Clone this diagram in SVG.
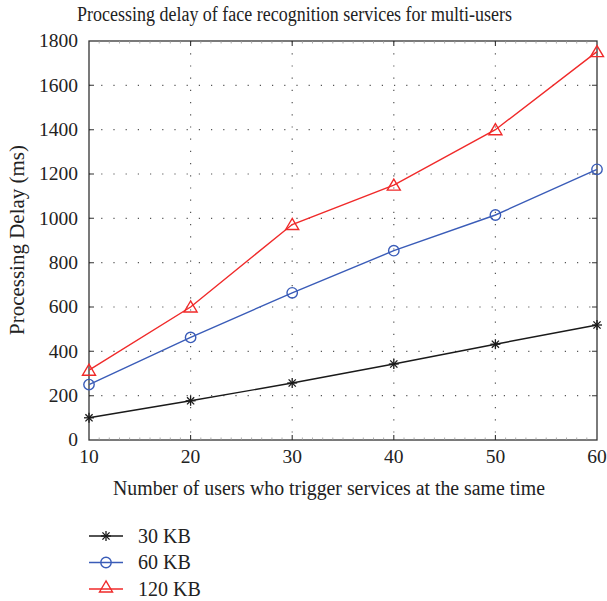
<svg xmlns="http://www.w3.org/2000/svg" xmlns:xlink="http://www.w3.org/1999/xlink" width="607" height="601" viewBox="0 0 607 601" font-family="'Liberation Serif','Times New Roman',serif">
<style>
text{font-family:"Liberation Serif","Times New Roman",serif;fill:#222}
.tick{font-size:19.5px}
.grid{stroke:#555;stroke-width:1.2;stroke-dasharray:1.2 11;fill:none}
.axis{stroke:#333;stroke-width:1.3;fill:none}
.mtick{stroke:#333;stroke-width:1.1}
.minor{stroke:#999;stroke-width:0.8}
.s30{stroke:#1a1a1a;stroke-width:1.4;fill:none}
.s60{stroke:#3a5cb8;stroke-width:1.4;fill:none}
.s120{stroke:#f02a2a;stroke-width:1.4;fill:none}
</style>
<defs>
<g id="star" stroke="#1a1a1a" stroke-width="1.3"><line x1="-5" y1="0" x2="5" y2="0"/><line x1="0" y1="-5" x2="0" y2="5"/><line x1="-3.6" y1="-3.6" x2="3.6" y2="3.6"/><line x1="-3.6" y1="3.6" x2="3.6" y2="-3.6"/></g>
<circle id="circ" r="5.2" fill="none" stroke="#3a5cb8" stroke-width="1.4"/>
<polygon id="tri" points="0,-6 -6.5,5 6.5,5" fill="none" stroke="#f02a2a" stroke-width="1.4"/>
</defs>
<g id="title"><text x="294.5" y="21" font-size="20.5" text-anchor="middle" textLength="435" lengthAdjust="spacingAndGlyphs">Processing delay of face recognition services for multi-users</text></g>
<g id="grid">
<path class="grid" d="M89 395.7H597M89 351.3H597M89 307H597M89 262.7H597M89 218.3H597M89 174H597M89 129.7H597M89 85.3H597"/>
<path class="grid" d="M190.6 41V440M292.2 41V440M393.8 41V440M495.4 41V440"/>
</g>
<g id="axes">
<rect class="axis" x="89" y="41" width="508" height="399"/>
<path class="minor" d="M99.2 440v-2.5M109.3 440v-2.5M119.5 440v-2.5M129.6 440v-2.5M139.8 440v-2.5M150 440v-2.5M160.1 440v-2.5M170.3 440v-2.5M180.4 440v-2.5M200.8 440v-2.5M210.9 440v-2.5M221.1 440v-2.5M231.2 440v-2.5M241.4 440v-2.5M251.6 440v-2.5M261.7 440v-2.5M271.9 440v-2.5M282 440v-2.5M302.4 440v-2.5M312.5 440v-2.5M322.7 440v-2.5M332.8 440v-2.5M343 440v-2.5M353.2 440v-2.5M363.3 440v-2.5M373.5 440v-2.5M383.6 440v-2.5M404 440v-2.5M414.1 440v-2.5M424.3 440v-2.5M434.4 440v-2.5M444.6 440v-2.5M454.8 440v-2.5M464.9 440v-2.5M475.1 440v-2.5M485.2 440v-2.5M505.6 440v-2.5M515.7 440v-2.5M525.9 440v-2.5M536 440v-2.5M546.2 440v-2.5M556.4 440v-2.5M566.5 440v-2.5M576.7 440v-2.5M586.8 440v-2.5"/>
<path class="minor" d="M99.2 41v2.5M109.3 41v2.5M119.5 41v2.5M129.6 41v2.5M139.8 41v2.5M150 41v2.5M160.1 41v2.5M170.3 41v2.5M180.4 41v2.5M200.8 41v2.5M210.9 41v2.5M221.1 41v2.5M231.2 41v2.5M241.4 41v2.5M251.6 41v2.5M261.7 41v2.5M271.9 41v2.5M282 41v2.5M302.4 41v2.5M312.5 41v2.5M322.7 41v2.5M332.8 41v2.5M343 41v2.5M353.2 41v2.5M363.3 41v2.5M373.5 41v2.5M383.6 41v2.5M404 41v2.5M414.1 41v2.5M424.3 41v2.5M434.4 41v2.5M444.6 41v2.5M454.8 41v2.5M464.9 41v2.5M475.1 41v2.5M485.2 41v2.5M505.6 41v2.5M515.7 41v2.5M525.9 41v2.5M536 41v2.5M546.2 41v2.5M556.4 41v2.5M566.5 41v2.5M576.7 41v2.5M586.8 41v2.5"/>
<path class="mtick" d="M190.6 440v-5M292.2 440v-5M393.8 440v-5M495.4 440v-5M190.6 41v5M292.2 41v5M393.8 41v5M495.4 41v5"/>
<path class="mtick" d="M89 395.7h5M89 351.3h5M89 307h5M89 262.7h5M89 218.3h5M89 174h5M89 129.7h5M89 85.3h5M597 395.7h-5M597 351.3h-5M597 307h-5M597 262.7h-5M597 218.3h-5M597 174h-5M597 129.7h-5M597 85.3h-5"/>
</g>
<g id="yticks" class="tick" text-anchor="end">
<text x="78" y="446">0</text><text x="78" y="402">200</text><text x="78" y="357.5">400</text><text x="78" y="313">600</text><text x="78" y="269">800</text><text x="78" y="224.5">1000</text><text x="78" y="180">1200</text><text x="78" y="136">1400</text><text x="78" y="91.5">1600</text><text x="78" y="47">1800</text>
</g>
<g id="xticks" class="tick" text-anchor="middle">
<text x="89" y="463">10</text><text x="190.6" y="463">20</text><text x="292.2" y="463">30</text><text x="393.8" y="463">40</text><text x="495.4" y="463">50</text><text x="597" y="463">60</text>
</g>
<g id="xlabel"><text x="329" y="495" font-size="20.5" text-anchor="middle" textLength="432" lengthAdjust="spacingAndGlyphs">Number of users who trigger services at the same time</text></g>
<g id="ylabel"><text transform="translate(24,240) rotate(-90)" font-size="20.5" text-anchor="middle" textLength="190" lengthAdjust="spacingAndGlyphs">Processing Delay (ms)</text></g>
<g id="connectors">
<polyline class="s30" points="89,417.8 190.6,400.8 292.2,383 393.8,364 495.4,344.2 597,325"/>
<polyline class="s60" points="89,384.6 190.6,337.4 292.2,292.8 393.8,250.7 495.4,215 597,169.3"/>
<polyline class="s120" points="89,370.2 190.6,307 292.2,224.5 393.8,185.1 495.4,129.7 597,51.6"/>
</g>
<g id="series-30KB">
<use xlink:href="#star" x="89" y="417.8"/><use xlink:href="#star" x="190.6" y="400.8"/><use xlink:href="#star" x="292.2" y="383"/><use xlink:href="#star" x="393.8" y="364"/><use xlink:href="#star" x="495.4" y="344.2"/><use xlink:href="#star" x="597" y="325"/>
</g>
<g id="series-60KB">
<use xlink:href="#circ" x="89" y="384.6"/><use xlink:href="#circ" x="190.6" y="337.4"/><use xlink:href="#circ" x="292.2" y="292.8"/><use xlink:href="#circ" x="393.8" y="250.7"/><use xlink:href="#circ" x="495.4" y="215"/><use xlink:href="#circ" x="597" y="169.3"/>
</g>
<g id="series-120KB">
<use xlink:href="#tri" x="89" y="370.2"/><use xlink:href="#tri" x="190.6" y="307"/><use xlink:href="#tri" x="292.2" y="224.5"/><use xlink:href="#tri" x="393.8" y="185.1"/><use xlink:href="#tri" x="495.4" y="129.7"/><use xlink:href="#tri" x="597" y="51.6"/>
</g>
<g id="legend">
<line class="s30" x1="89" y1="536" x2="123" y2="536"/><use xlink:href="#star" x="106" y="536"/><text x="138" y="542.5" font-size="20">30 KB</text>
<line class="s60" x1="89" y1="562.5" x2="123" y2="562.5"/><use xlink:href="#circ" x="106" y="562.5"/><text x="138" y="569" font-size="20">60 KB</text>
<line class="s120" x1="89" y1="589" x2="123" y2="589"/><use xlink:href="#tri" x="106" y="587"/><text x="138" y="595.5" font-size="20">120 KB</text>
</g>
</svg>
